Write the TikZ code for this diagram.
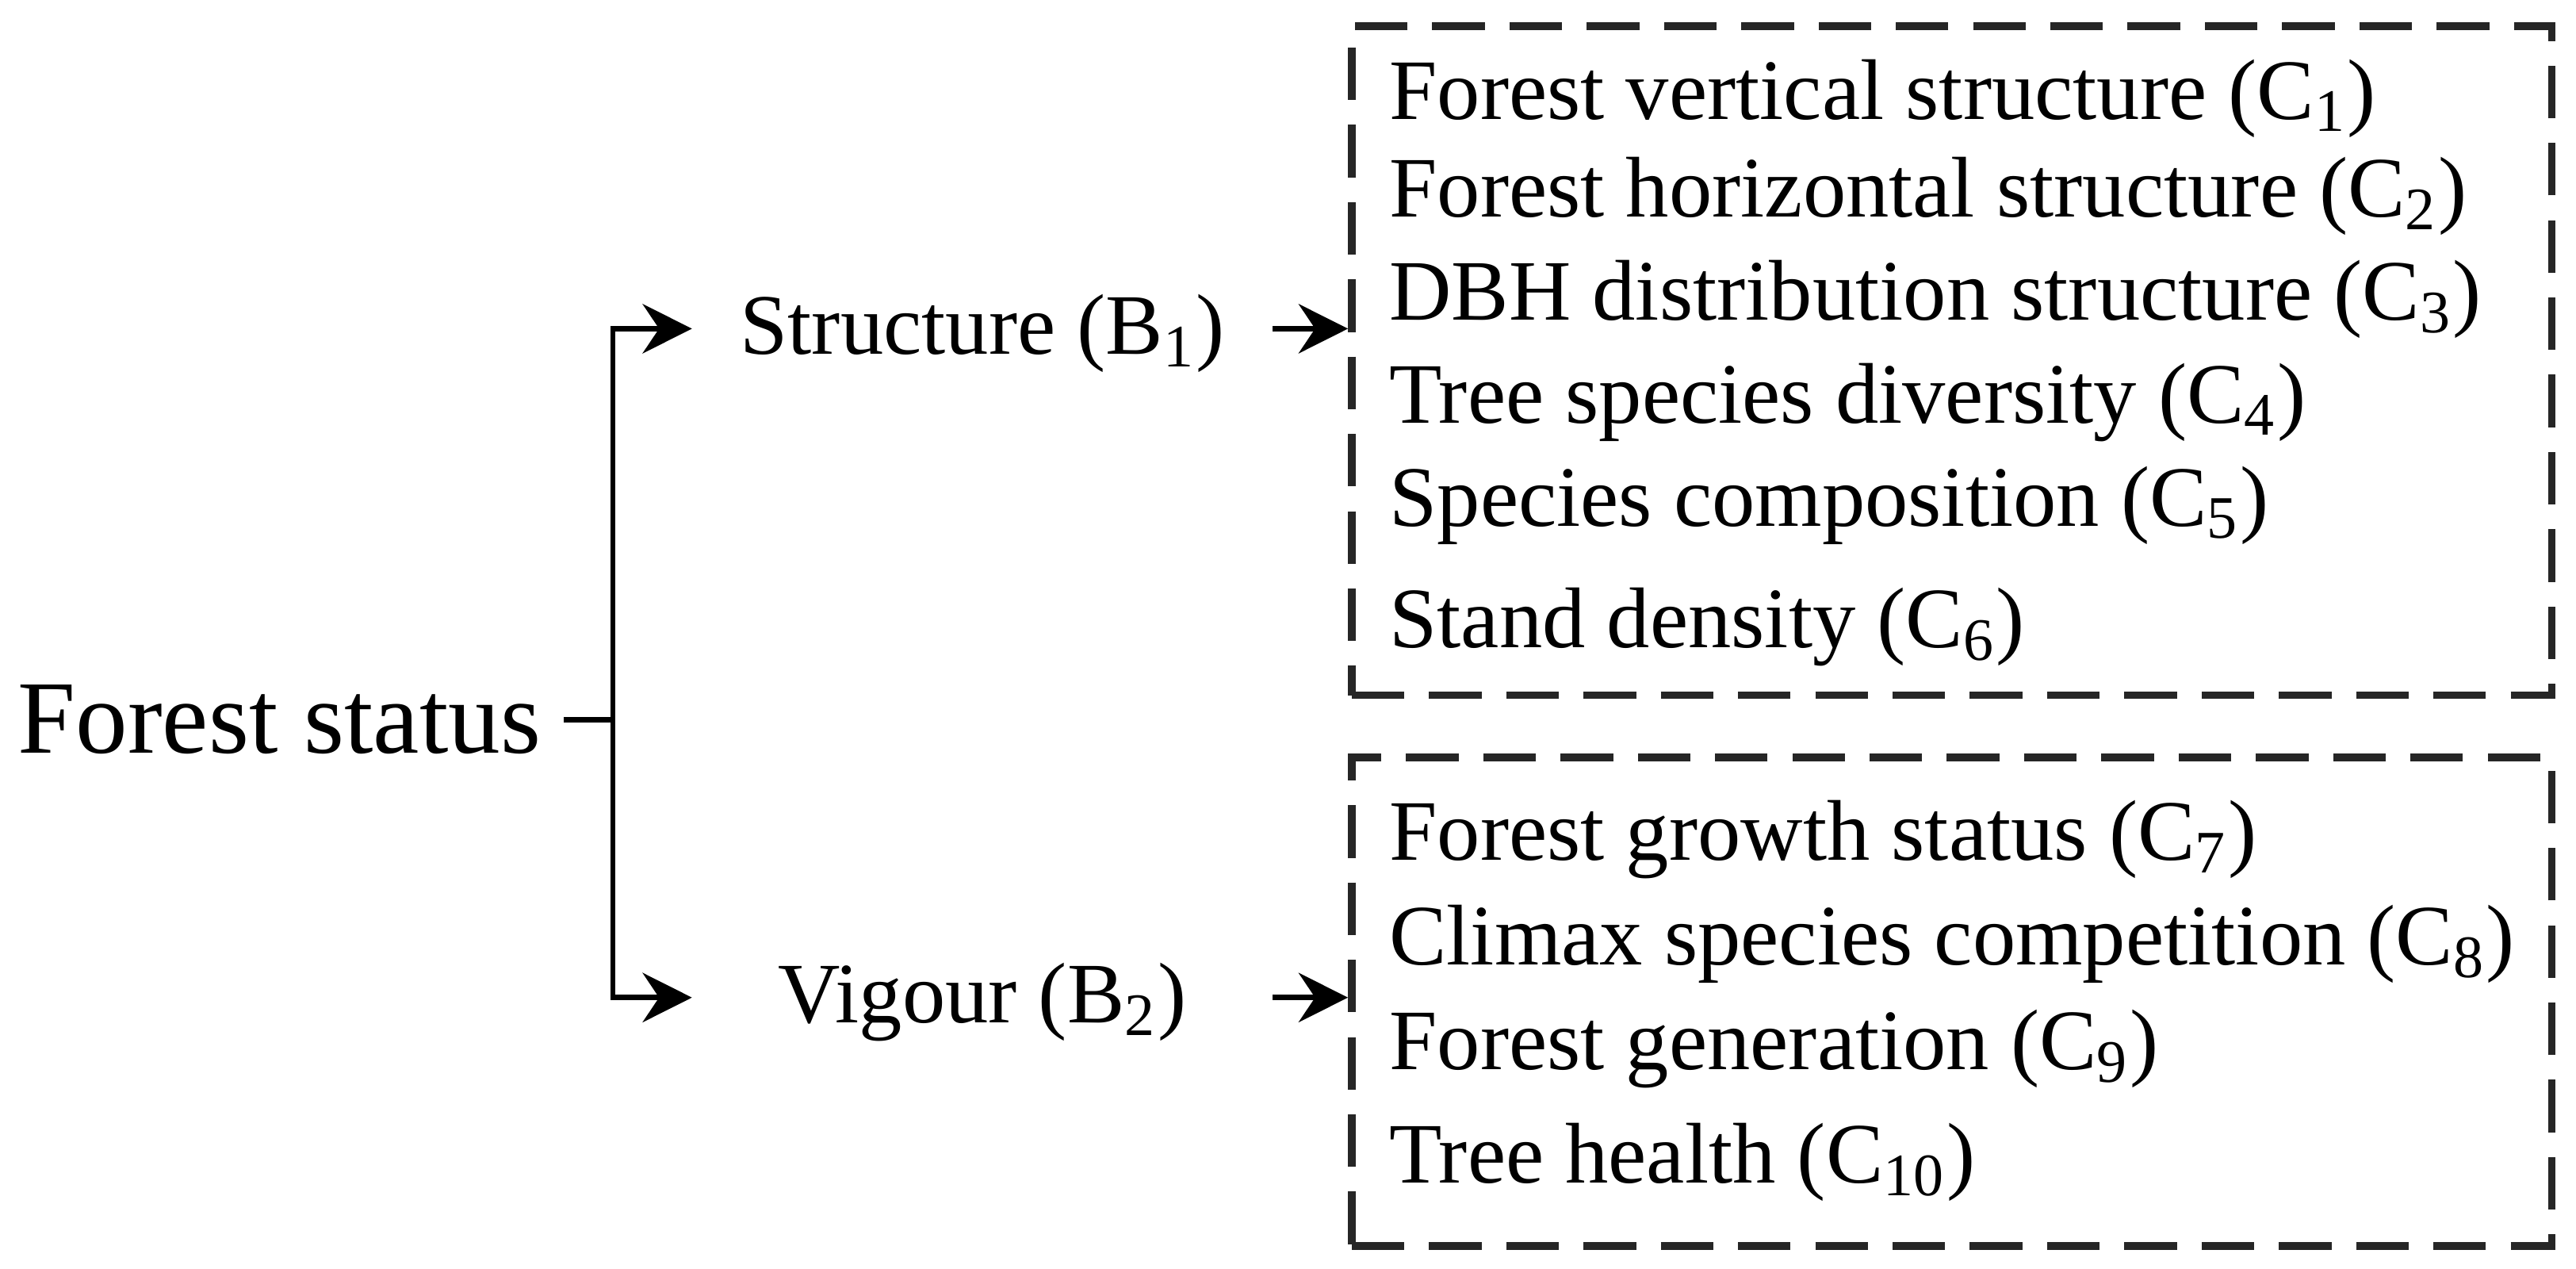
\documentclass[tikz,border=0pt]{standalone}
\usepackage{fontspec}
\setmainfont{Liberation Serif}
\usepackage{tikz}
\usetikzlibrary{
    arrows.meta,
    positioning
}

\begin{document}
\begin{tikzpicture}[
        x=0.01cm, y=-0.01cm,
        conn/.style={line width=0.9pt},
        tip/.style={conn, -{Stealth[length=0.3cm, width=0.3cm, inset=0.1cm]}},
        root/.style={inner sep=0pt, outer xsep=0.14cm, font=\fontsize{18}{22}\selectfont},
        crit/.style={inner sep=0pt, minimum width=3.52cm, text height=0.4cm, text depth=0.09cm, font=\fontsize{14.9}{18}\selectfont},
        ind/.style={inner sep=0pt, anchor=base west, font=\fontsize{14.9}{18}\selectfont},
        grp/.style={draw=black!85, line width=1.3pt, dash pattern=on 0.32cm off 0.15cm, minimum width=7.3cm, inner sep=0pt}
    ]
    \useasboundingbox (0, 0) rectangle (1568, 772);

    \node[root, anchor=west] (fs) at (-3, 438) {Forest status};
    \node[crit] (b1) at (598, 200) {Structure (B\textsubscript{1})};
    \node[crit] (b2) at (598, 607) {Vigour (B\textsubscript{2})};
    \coordinate (t1) at (373, 200);
    \coordinate (t2) at (373, 607);

    \node[grp, minimum height=4.07cm] (s1) at (1188, 219.5) {};
    \node[grp, minimum height=2.97cm] (s2) at (1188, 609.5) {};

    \node[ind] (c1) at (845, 72.4) {Forest vertical structure (C\textsubscript{1})};
    \node[ind] (c2) at (845, 132) {Forest horizontal structure (C\textsubscript{2})};
    \node[ind] (c3) at (845, 194.7) {DBH distribution structure (C\textsubscript{3})};
    \node[ind] (c4) at (845, 257.3) {Tree species diversity (C\textsubscript{4})};
    \node[ind] (c5) at (845, 320) {Species composition (C\textsubscript{5})};
    \node[ind] (c6) at (845, 394.2) {Stand density (C\textsubscript{6})};
    \node[ind] (c7) at (845, 523.5) {Forest growth status (C\textsubscript{7})};
    \node[ind] (c8) at (845, 587) {Climax species competition (C\textsubscript{8})};
    \node[ind] (c9) at (845, 650.7) {Forest generation (C\textsubscript{9})};
    \node[ind] (c10) at (845, 720) {Tree health (C\textsubscript{10})};

    \draw[conn, line cap=rect] (t1) -- (t2);
    \draw[conn] (fs.east) -- (fs.east -| t1);
    \draw
    (t1) edge[tip] (b1)
    (t2) edge[tip] (b2)
    (b1) edge[tip] (b1 -| s1.west)
    (b2) edge[tip] (b2 -| s2.west);
\end{tikzpicture}
\end{document}
